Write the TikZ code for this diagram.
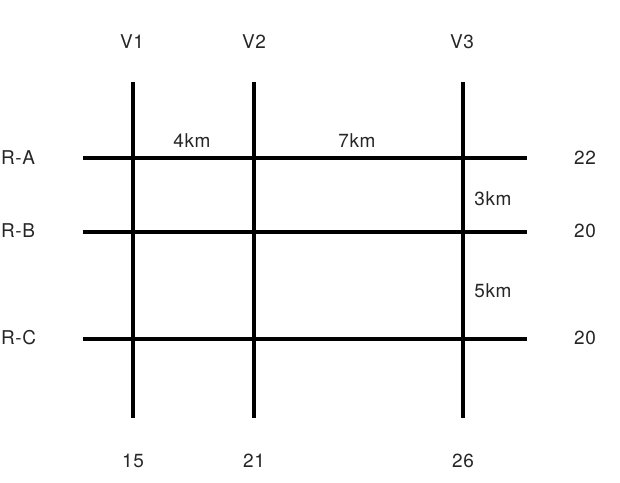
\documentclass[tikz,border=0pt]{standalone}
\usepackage{fontspec}
\setmainfont[LetterSpace=3]{TeX Gyre Heros}
\begin{document}
\begin{tikzpicture}[x=1pt,y=-1pt,
  road/.style={line width=4pt,black},
  lbl/.style={font=\fontsize{19}{22}\selectfont,inner sep=0pt,text=black!85}]
\useasboundingbox (0,0) rectangle (620,482);
% vertical road ends
\coordinate (v1t) at (133,82); \coordinate (v1b) at (133,418);
\coordinate (v2t) at (254,82); \coordinate (v2b) at (254,418);
\coordinate (v3t) at (463,82); \coordinate (v3b) at (463,418);
% horizontal road ends
\coordinate (hal) at (83,158); \coordinate (har) at (527,158);
\coordinate (hbl) at (83,232); \coordinate (hbr) at (527,232);
\coordinate (hcl) at (83,339); \coordinate (hcr) at (527,339);
\draw[road] (v1t) -- (v1b);
\draw[road] (v2t) -- (v2b);
\draw[road] (v3t) -- (v3b);
\draw[road] (hal) -- (har);
\draw[road] (hbl) -- (hbr);
\draw[road] (hcl) -- (hcr);
% labels
\node[lbl] (V1) at (132,42) {V1};
\node[lbl] (V2) at (254,42) {V2};
\node[lbl] (V3) at (462,42) {V3};
\node[lbl,anchor=west] (RA) at (1,158) {R-A};
\node[lbl,anchor=west] (RB) at (1,231) {R-B};
\node[lbl,anchor=west] (RC) at (1,338) {R-C};
\node[lbl] (ra) at (585,158) {22};
\node[lbl] (rb) at (585,231) {20};
\node[lbl] (rc) at (585,338) {20};
\node[lbl] (b1) at (133,461) {15};
\node[lbl] (b2) at (254,461) {21};
\node[lbl] (b3) at (463,461) {26};
\node[lbl] (d1) at (192,141) {4km};
\node[lbl] (d2) at (357,141) {7km};
\node[lbl] (d3) at (493,199) {3km};
\node[lbl] (d4) at (493,291) {5km};
\end{tikzpicture}
\end{document}
